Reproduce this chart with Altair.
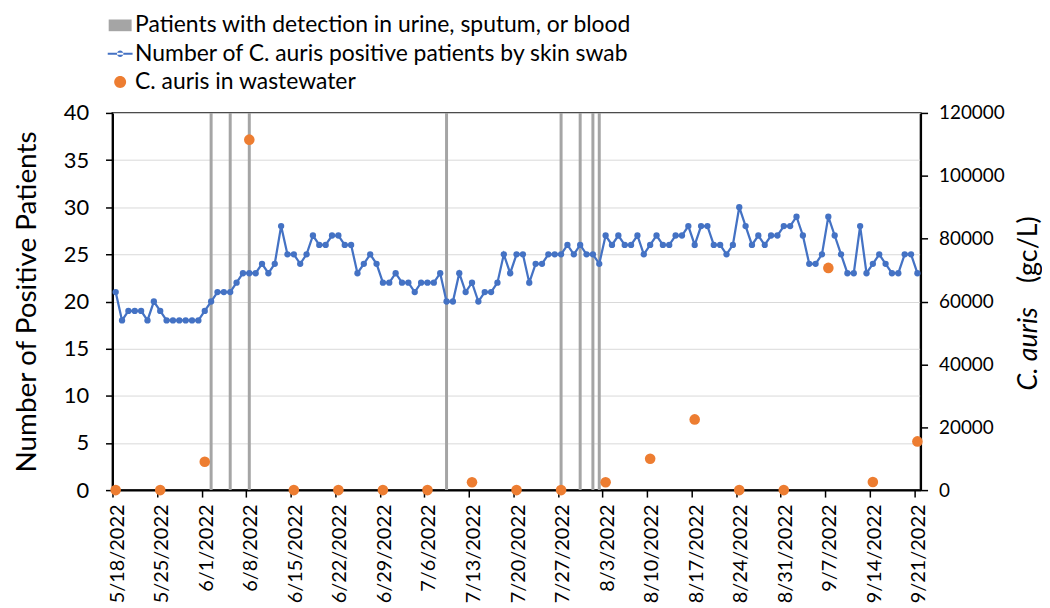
import altair as alt
import pandas as pd

# ---------------- data ----------------
start_date = "2022-05-18"
end_date = "2022-09-21"
day_dates = pd.date_range(start_date, end_date, freq="D")

skin_swab = [
    # 5/18 - 5/31
    21, 18, 19, 19, 19, 18, 20, 19, 18, 18, 18, 18, 18, 18,
    # June
    19, 20, 21, 21, 21, 22, 23, 23, 23, 24, 23, 24, 28, 25, 25,
    24, 25, 27, 26, 26, 27, 27, 26, 26, 23, 24, 25, 24, 22, 22,
    # July
    23, 22, 22, 21, 22, 22, 22, 23, 20, 20, 23, 21, 22, 20, 21, 21,
    22, 25, 23, 25, 25, 22, 24, 24, 25, 25, 25, 26, 25, 26, 25,
    # August
    25, 24, 27, 26, 27, 26, 26, 27, 25, 26, 27, 26, 26, 27, 27, 28,
    26, 28, 28, 26, 26, 25, 26, 30, 28, 26, 27, 26, 27, 27, 28,
    # September 1 - 21
    28, 29, 27, 24, 24, 25, 29, 27, 25, 23, 23, 28, 23, 24, 25, 24,
    23, 23, 25, 25, 23,
]

detection_dates = ["2022-06-02", "2022-06-05", "2022-06-08", "2022-07-09",
                   "2022-07-27", "2022-07-30", "2022-08-01", "2022-08-02"]

ww_dates = ["2022-05-18", "2022-05-25", "2022-06-01", "2022-06-08", "2022-06-15",
            "2022-06-22", "2022-06-29", "2022-07-06", "2022-07-13", "2022-07-20",
            "2022-07-27", "2022-08-03", "2022-08-10", "2022-08-17", "2022-08-24",
            "2022-08-31", "2022-09-07", "2022-09-14", "2022-09-21"]
ww_values = [0, 0, 9000, 111500, 0, 0, 0, 0, 2500, 0,
             0, 2500, 10000, 22500, 0, 0, 70700, 2600, 15500]

legend_labels = ["Patients with detection in urine, sputum, or blood",
                 "Number of C. auris positive patients by skin swab",
                 "C. auris in wastewater"]
right_title_parts = ["C. auris", "(gc/L)"]
left_title = "Number of Positive Patients"

# ---------------- tables ----------------
t0 = pd.Timestamp(start_date)


def day_index(ds):
    return [(pd.Timestamp(d) - t0).days for d in ds]


df_line = pd.DataFrame({"day": day_index(day_dates), "count": skin_swab})
df_det = pd.DataFrame({"day": day_index(detection_dates), "count": [40] * len(detection_dates)})
df_ww = pd.DataFrame({"day": day_index(ww_dates), "ww": ww_values})
df_leg = pd.DataFrame({"label": legend_labels, "count": [None] * 3})

# ---------------- style ----------------
FONT = "Lato"
BLUE = "#4472C4"
ORANGE = "#ED7D31"
GRAY = "#A5A5A5"
n_days = len(day_dates)

x_scale = alt.Scale(domain=[-0.5, n_days - 0.5], nice=False, zero=False, padding=0)
x_axis = alt.Axis(
    values=list(range(0, n_days, 7)),
    labelExpr="timeFormat(datetime(2022, 4, 18 + datum.value), '%-m/%-d/%Y')",
    labelAngle=270, labelFont=FONT, labelFontSize=20, labelColor="#000",
    labelPadding=7, labelOffset=4.7, tickOffset=-3.2, tickSize=7,
    tickColor="#000", tickWidth=1.5, domainColor="#000", domainWidth=2,
    grid=False, title=None, labelOverlap=False, labelFlush=False,
)
x_enc = alt.X("day:Q", scale=x_scale, axis=x_axis)

yl_scale = alt.Scale(domain=[0, 40], nice=False, zero=True)
yl_axis = alt.Axis(
    values=list(range(0, 41, 5)), labelFont=FONT, labelFontSize=22,
    labelColor="#000", labelPadding=17, tickSize=7, tickColor="#000",
    tickWidth=1.5, domainColor="#000", domainWidth=2,
    grid=True, gridColor="#D9D9D9", gridWidth=1,
    title=left_title, titleFont=FONT, titleFontSize=28, titleFontWeight="normal",
    titleColor="#000", titleAngle=270, titleX=-77, titleY=189.5,
    titleAlign="center", titleBaseline="alphabetic",
)
yl_enc = alt.Y("count:Q", scale=yl_scale, axis=yl_axis)

rect_path = "M-0.96,-0.49L0.96,-0.49L0.96,0.49L-0.96,0.49Z"
line_dot_path = ("M-1.04,-0.09L1.04,-0.09L1.04,0.09L-1.04,0.09Z"
                 "M-0.27,0A0.27,0.27 0 1,0 0.27,0A0.27,0.27 0 1,0 -0.27,0Z")
circle_path = "M-0.5,0A0.5,0.5 0 1,0 0.5,0A0.5,0.5 0 1,0 -0.5,0Z"

legend_def = alt.Legend(
    title=None, orient="none", legendX=-4.3, legendY=-100,
    direction="vertical", labelFont=FONT, labelFontSize=23,
    labelColor="#000", labelLimit=0, labelOffset=3, symbolSize=576,
    rowPadding=4.5, padding=0, symbolStrokeWidth=0, symbolOpacity=1,
)

# ---------------- layers ----------------
bars = alt.Chart(df_det).mark_bar(color=GRAY, size=3).encode(x=x_enc, y=yl_enc)

swab = alt.Chart(df_line).mark_line(
    color=BLUE, strokeWidth=2.25,
    point=alt.OverlayMarkDef(filled=True, size=40, color=BLUE, opacity=1),
).encode(x=x_enc, y=yl_enc)

legend_layer = alt.Chart(df_leg).mark_point(filled=True, size=576, opacity=1).encode(
    y=yl_enc,
    color=alt.Color(
        "label:N",
        scale=alt.Scale(domain=legend_labels, range=[GRAY, BLUE, ORANGE]),
        legend=legend_def,
    ),
    shape=alt.Shape(
        "label:N",
        scale=alt.Scale(domain=legend_labels, range=[rect_path, line_dot_path, circle_path]),
        legend=legend_def,
    ),
)

left = alt.layer(bars, swab, legend_layer)

yr_axis = alt.Axis(
    orient="right", values=list(range(0, 120001, 20000)), format="d",
    labelFont=FONT, labelFontSize=19, labelColor="#000", labelPadding=11,
    tickSize=7, tickColor="#000", tickWidth=1.5, domainColor="#000",
    domainWidth=2, grid=False, title=None,
)
ww = alt.Chart(df_ww).mark_circle(color=ORANGE, size=113, opacity=1).encode(
    x=x_enc,
    y=alt.Y("ww:Q", scale=alt.Scale(domain=[0, 120000], nice=False), axis=yr_axis),
)

title_a = alt.Chart(pd.DataFrame({"t": [right_title_parts[0]]})).mark_text(
    angle=270, align="left", baseline="alphabetic", font=FONT, fontSize=27,
    fontStyle="italic", color="#000",
).encode(text="t:N", x=alt.value(929), y=alt.value(279))

title_b = alt.Chart(pd.DataFrame({"t": [right_title_parts[1]]})).mark_text(
    angle=270, align="left", baseline="alphabetic", font=FONT, fontSize=27,
    color="#000",
).encode(text="t:N", x=alt.value(929), y=alt.value(171))

right = alt.layer(ww, title_a, title_b)

chart = (
    alt.layer(left, right)
    .resolve_scale(y="independent")
    .properties(
        width=812, height=379,
        padding={"left": 105, "top": 104, "right": 122, "bottom": 112},
        autosize=alt.AutoSizeParams(type="none"),
    )
    .configure_view(stroke="#404040", strokeWidth=2)
)

chart.save("out.html", embed_options={"renderer": "svg", "actions": False})
